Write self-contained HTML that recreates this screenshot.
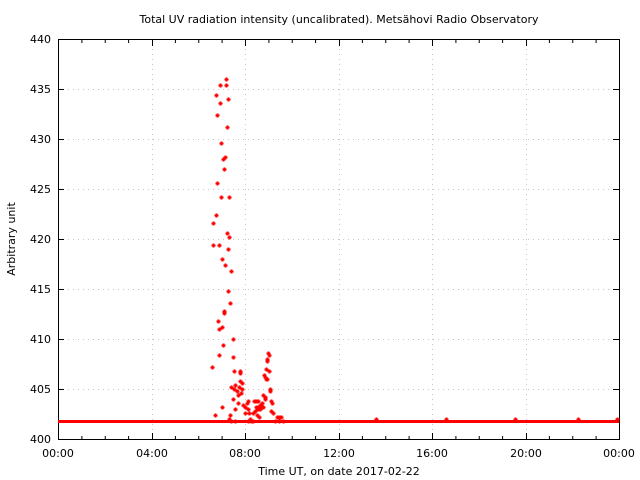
<!DOCTYPE html>
<html><head><meta charset="utf-8"><style>
html,body{margin:0;padding:0;background:#fff;}
svg{display:block;font-family:"DejaVu Sans","Liberation Sans",sans-serif;}
</style></head><body>
<svg width="640" height="480" viewBox="0 0 640 480" xmlns="http://www.w3.org/2000/svg">
<defs><path id="m" d="M-1.5,-0.5h1v-1h2v1h1v2h-1v1h-2v-1h-1z" fill="#f00"/></defs>
<rect width="640" height="480" fill="#fff"/>
<g stroke="#c8c8c8" stroke-width="1" stroke-dasharray="1,4">
<line x1="58" y1="89.5" x2="619" y2="89.5"/><line x1="58" y1="139.5" x2="619" y2="139.5"/>
<line x1="58" y1="189.5" x2="619" y2="189.5"/><line x1="58" y1="239.5" x2="619" y2="239.5"/>
<line x1="58" y1="289.5" x2="619" y2="289.5"/><line x1="58" y1="339.5" x2="619" y2="339.5"/>
<line x1="58" y1="389.5" x2="619" y2="389.5"/>
<line x1="152.5" y1="39" x2="152.5" y2="439"/><line x1="245.5" y1="39" x2="245.5" y2="439"/>
<line x1="339.5" y1="39" x2="339.5" y2="439"/><line x1="432.5" y1="39" x2="432.5" y2="439"/>
<line x1="526.5" y1="39" x2="526.5" y2="439"/>
</g>
<rect x="58.5" y="39.5" width="561" height="400" fill="none" stroke="#000" stroke-width="1"/>
<path stroke="#000" stroke-width="1" fill="none" d="
M81.9,439v-3M105.25,439v-3M128.6,439v-3M152.5,439v-6M175.4,439v-3M198.75,439v-3M222.1,439v-3M245.5,439v-6M268.9,439v-3M292.25,439v-3M315.6,439v-3M339.5,439v-6M362.4,439v-3M385.75,439v-3M409.1,439v-3M432.5,439v-6M455.9,439v-3M479.25,439v-3M502.6,439v-3M526.5,439v-6M549.4,439v-3M572.75,439v-3M596.1,439v-3
M81.9,40v3M105.25,40v3M128.6,40v3M152.5,40v6M175.4,40v3M198.75,40v3M222.1,40v3M245.5,40v6M268.9,40v3M292.25,40v3M315.6,40v3M339.5,40v6M362.4,40v3M385.75,40v3M409.1,40v3M432.5,40v6M455.9,40v3M479.25,40v3M502.6,40v3M526.5,40v6M549.4,40v3M572.75,40v3M596.1,40v3
M58,89.5h6M58,139.5h6M58,189.5h6M58,239.5h6M58,289.5h6M58,339.5h6M58,389.5h6
M613,89.5h6M613,139.5h6M613,189.5h6M613,239.5h6M613,289.5h6M613,339.5h6M613,389.5h6"/>
<line x1="58" y1="421.5" x2="619" y2="421.5" stroke="#f00" stroke-width="3"/>
<g>
<use href="#m" x="226" y="79"/><use href="#m" x="220" y="85"/><use href="#m" x="226" y="85"/><use href="#m" x="216" y="95"/><use href="#m" x="228" y="99"/><use href="#m" x="220" y="103"/><use href="#m" x="217" y="115"/><use href="#m" x="227" y="127"/><use href="#m" x="221" y="143"/><use href="#m" x="225" y="157"/><use href="#m" x="223" y="159"/><use href="#m" x="224" y="169"/><use href="#m" x="217" y="183"/><use href="#m" x="221" y="197"/><use href="#m" x="229" y="197"/><use href="#m" x="216" y="215"/><use href="#m" x="213" y="223"/><use href="#m" x="227" y="233"/><use href="#m" x="229" y="237"/><use href="#m" x="213" y="245"/><use href="#m" x="219" y="245"/><use href="#m" x="228" y="249"/><use href="#m" x="222" y="259"/><use href="#m" x="225" y="265"/><use href="#m" x="231" y="271"/><use href="#m" x="228" y="291"/><use href="#m" x="230" y="303"/><use href="#m" x="224" y="311"/><use href="#m" x="224" y="313"/><use href="#m" x="218" y="321"/><use href="#m" x="222" y="327"/><use href="#m" x="219" y="329"/><use href="#m" x="233" y="339"/><use href="#m" x="223" y="345"/><use href="#m" x="219" y="355"/><use href="#m" x="233" y="357"/><use href="#m" x="212" y="367"/><use href="#m" x="234" y="371"/><use href="#m" x="240" y="371"/><use href="#m" x="240" y="373"/><use href="#m" x="240" y="381"/><use href="#m" x="235" y="385"/><use href="#m" x="231" y="387"/><use href="#m" x="234" y="389"/><use href="#m" x="242" y="383"/><use href="#m" x="239" y="387"/><use href="#m" x="242" y="389"/><use href="#m" x="237" y="391"/><use href="#m" x="233" y="399"/><use href="#m" x="238" y="395"/><use href="#m" x="241" y="393"/><use href="#m" x="238" y="403"/><use href="#m" x="222" y="407"/><use href="#m" x="235" y="409"/><use href="#m" x="243" y="405"/><use href="#m" x="245" y="407"/><use href="#m" x="247" y="403"/><use href="#m" x="245" y="413"/><use href="#m" x="248" y="409"/><use href="#m" x="215" y="415"/><use href="#m" x="230" y="415"/><use href="#m" x="229" y="419"/><use href="#m" x="231" y="421"/><use href="#m" x="235" y="421"/><use href="#m" x="248" y="421"/><use href="#m" x="251" y="421"/><use href="#m" x="253" y="421"/><use href="#m" x="249" y="413"/><use href="#m" x="248" y="401"/>
<use href="#m" x="268" y="353"/><use href="#m" x="269" y="355"/><use href="#m" x="267" y="359"/><use href="#m" x="267" y="361"/><use href="#m" x="266" y="369"/><use href="#m" x="269" y="371"/><use href="#m" x="264" y="375"/><use href="#m" x="265" y="377"/><use href="#m" x="266" y="379"/><use href="#m" x="267" y="379"/><use href="#m" x="270" y="389"/><use href="#m" x="270" y="391"/><use href="#m" x="263" y="395"/><use href="#m" x="265" y="399"/><use href="#m" x="271" y="401"/><use href="#m" x="272" y="403"/><use href="#m" x="256" y="401"/><use href="#m" x="258" y="401"/><use href="#m" x="254" y="401"/><use href="#m" x="262" y="403"/><use href="#m" x="260" y="405"/><use href="#m" x="258" y="407"/><use href="#m" x="256" y="407"/><use href="#m" x="260" y="409"/><use href="#m" x="258" y="409"/><use href="#m" x="255" y="411"/><use href="#m" x="253" y="413"/><use href="#m" x="257" y="415"/><use href="#m" x="259" y="417"/><use href="#m" x="271" y="411"/><use href="#m" x="273" y="413"/><use href="#m" x="250" y="419"/><use href="#m" x="263" y="407"/><use href="#m" x="265" y="397"/><use href="#m" x="275" y="421"/><use href="#m" x="279" y="421"/><use href="#m" x="283" y="421"/><use href="#m" x="277" y="417"/><use href="#m" x="279" y="417"/><use href="#m" x="281" y="417"/><use href="#m" x="376" y="419"/><use href="#m" x="446" y="419"/><use href="#m" x="515" y="419"/><use href="#m" x="578" y="419"/><use href="#m" x="617" y="419"/>
</g>
<g font-size="11" fill="#000" text-anchor="end">
<text x="51" y="443">400</text><text x="51" y="393">405</text><text x="51" y="343">410</text>
<text x="51" y="293">415</text><text x="51" y="243">420</text><text x="51" y="193">425</text>
<text x="51" y="143">430</text><text x="51" y="93">435</text><text x="51" y="43">440</text>
</g>
<g font-size="11" fill="#000" text-anchor="middle">
<text x="58" y="457">00:00</text><text x="152" y="457">04:00</text><text x="245" y="457">08:00</text>
<text x="339" y="457">12:00</text><text x="432" y="457">16:00</text><text x="526" y="457">20:00</text>
<text x="619" y="457">00:00</text>
<text x="339" y="475">Time UT, on date 2017-02-22</text>
<text x="339" y="23">Total UV radiation intensity (uncalibrated). Metsähovi Radio Observatory</text>
<text transform="translate(15,239) rotate(-90)">Arbitrary unit</text>
</g>
</svg>
</body></html>
